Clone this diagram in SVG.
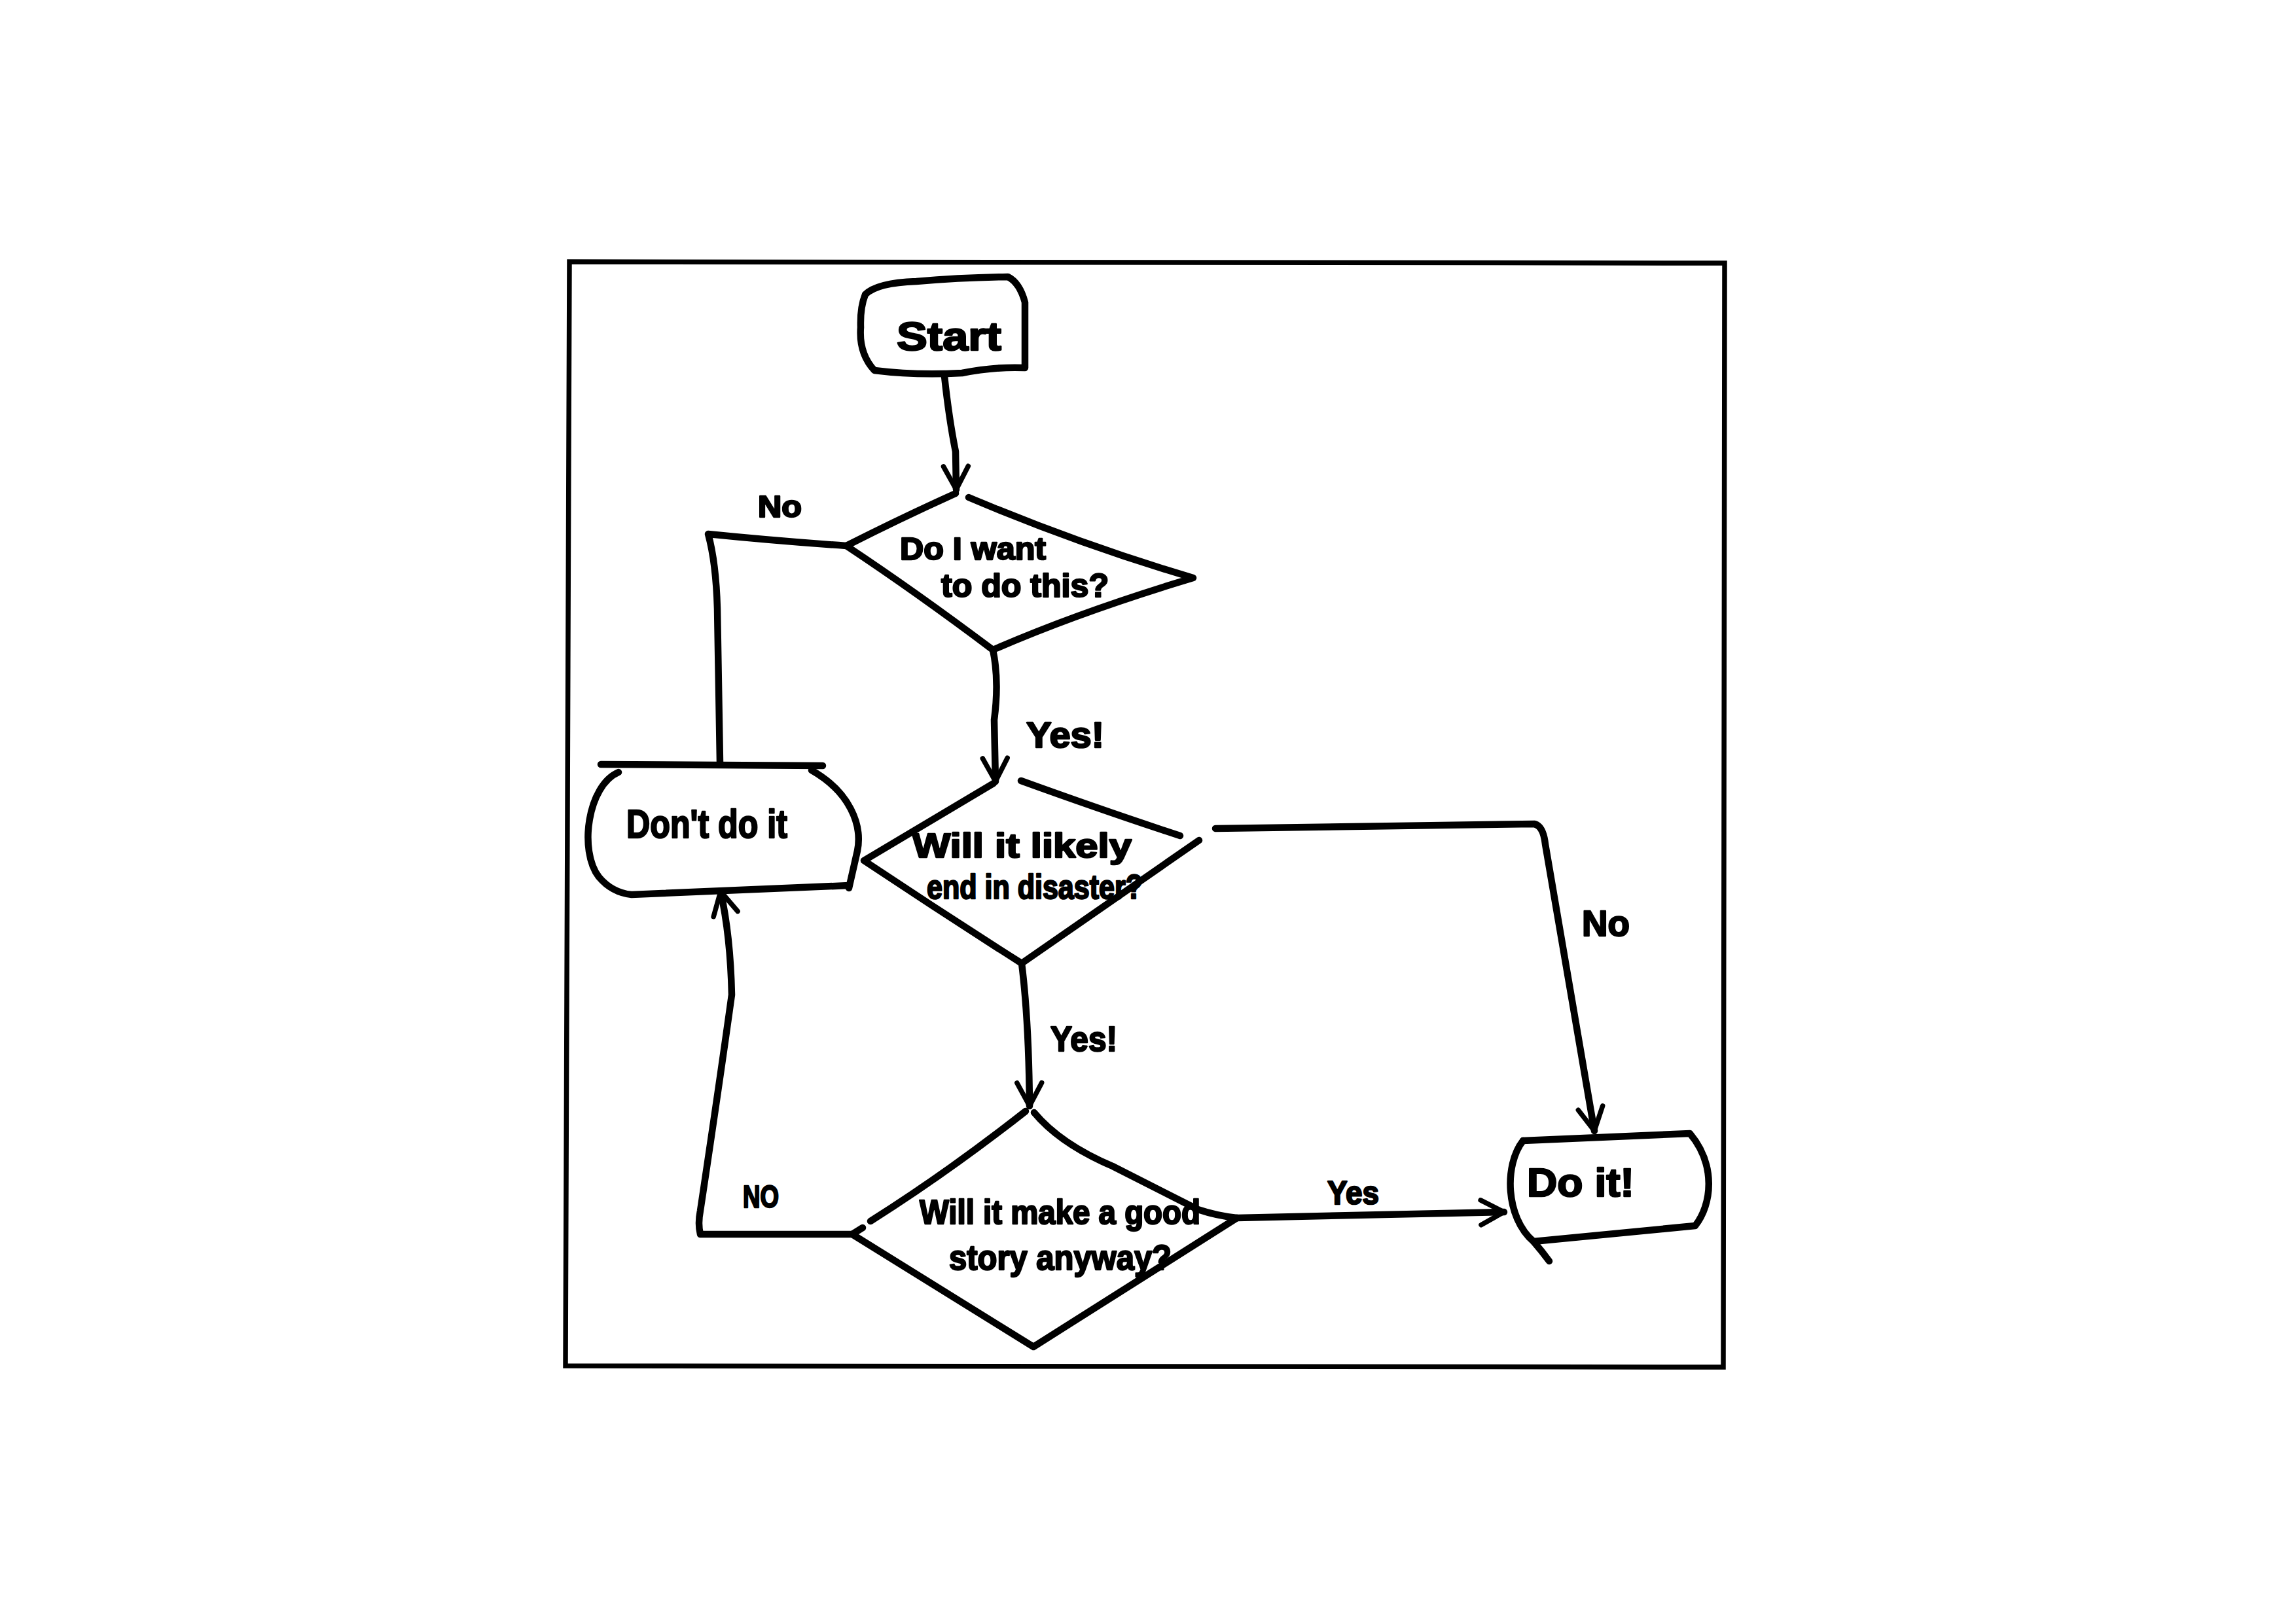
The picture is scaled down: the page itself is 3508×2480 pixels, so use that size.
<svg xmlns="http://www.w3.org/2000/svg" width="3508" height="2480" viewBox="0 0 3508 2480">
  <style>
    .ink { fill: none; stroke: #000; stroke-width: 10.5; stroke-linecap: round; stroke-linejoin: round; }
    .frame { fill: none; stroke: #000; stroke-width: 7.5; }
    .lbl { font-family: "Liberation Sans", Arial, sans-serif; font-weight: bold; fill: #000; stroke: #000; stroke-width: 2.5; stroke-linejoin: round; }
  </style>
  <defs>
    <marker id="arrow" viewBox="0 0 20 20" refX="17" refY="10" markerWidth="4.5" markerHeight="4.5" markerUnits="strokeWidth" orient="auto">
      <path d="M2,2 L17,10 L2,18" fill="none" stroke="#000" stroke-width="3.2" stroke-linecap="round" stroke-linejoin="round"/>
    </marker>
  </defs>

  <rect x="0" y="0" width="3508" height="2480" fill="#fff"/>

  <!-- outer frame -->
  <path class="frame" d="M870,400 L2635,402 L2633,2089 L864,2087 Z"/>

  <!-- connectors -->
  <g id="connectors">
    <path class="ink" marker-end="url(#arrow)" d="M1443,575 Q1450,640 1460,690 L1461,748"/>
    <path class="ink" d="M1293,834 Q1180,826 1082,816 Q1094,860 1096,930 L1100,1165"/>
    <path class="ink" marker-end="url(#arrow)" d="M1517,993 Q1527,1040 1519,1100 L1521,1194"/>
    <path class="ink" marker-end="url(#arrow)" d="M1857,1266 L2344,1259 Q2358,1262 2361,1290 L2436,1728"/>
    <path class="ink" marker-end="url(#arrow)" d="M1561,1472 Q1572,1560 1573,1690"/>
    <path class="ink" marker-end="url(#arrow)" d="M1890,1861 L2298,1852"/>
    <path class="ink" marker-end="url(#arrow)" d="M1302,1886 L1070,1886 Q1066,1870 1070,1850 Q1100,1650 1118,1520 Q1116,1430 1101,1362"/>
  </g>

  <!-- connector labels -->
  <g id="labels">
    <text class="lbl" x="1158" y="790" font-size="46" textLength="67" lengthAdjust="spacingAndGlyphs">No</text>
    <text class="lbl" x="1568" y="1142" font-size="56" textLength="119" lengthAdjust="spacingAndGlyphs">Yes!</text>
    <text class="lbl" x="2417" y="1430" font-size="56" textLength="73" lengthAdjust="spacingAndGlyphs">No</text>
    <text class="lbl" x="1605" y="1606" font-size="54" textLength="102" lengthAdjust="spacingAndGlyphs">Yes!</text>
    <text class="lbl" x="1135" y="1845" font-size="48" textLength="55" lengthAdjust="spacingAndGlyphs">NO</text>
    <text class="lbl" x="2028" y="1840" font-size="50" textLength="79" lengthAdjust="spacingAndGlyphs">Yes</text>
  </g>

  <!-- start terminal -->
  <g id="start">
    <path class="ink" d="M1322,450 Q1340,432 1400,430 Q1470,424 1540,423 Q1558,432 1566,462 L1566,562 Q1520,560 1470,570 Q1400,574 1336,566 Q1312,540 1315,500 Q1314,470 1322,450 Z"/>
    <text class="lbl" x="1370" y="535" font-size="62" textLength="160" lengthAdjust="spacingAndGlyphs">Start</text>
  </g>

  <!-- decision: want to do this -->
  <g id="decision-want">
    <path class="ink" d="M1460,754 Q1380,790 1293,834 Q1400,905 1517,993"/>
    <path class="ink" d="M1480,760 Q1650,832 1823,883 Q1650,935 1517,993"/>
    <text class="lbl" x="1375" y="855" font-size="48" textLength="223" lengthAdjust="spacingAndGlyphs">Do I want</text>
    <text class="lbl" x="1438" y="912" font-size="50" textLength="256" lengthAdjust="spacingAndGlyphs">to do this?</text>
  </g>

  <!-- decision: disaster -->
  <g id="decision-disaster">
    <path class="ink" d="M1518,1197 L1320,1315 Q1440,1395 1561,1472 L1832,1284"/>
    <path class="ink" d="M1560,1193 Q1690,1240 1803,1277"/>
    <text class="lbl" x="1394" y="1310" font-size="52" textLength="335" lengthAdjust="spacingAndGlyphs">Will it likely</text>
    <text class="lbl" x="1416" y="1373" font-size="52" textLength="330" lengthAdjust="spacingAndGlyphs">end in disaster?</text>
  </g>

  <!-- decision: good story -->
  <g id="decision-story">
    <path class="ink" d="M1567,1698 Q1450,1790 1330,1866"/>
    <path class="ink" d="M1318,1876 L1302,1886 L1579,2058 L1890,1861"/>
    <path class="ink" d="M1580,1700 Q1620,1748 1700,1782 L1830,1848 Q1860,1858 1890,1861"/>
    <text class="lbl" x="1405" y="1870" font-size="52" textLength="429" lengthAdjust="spacingAndGlyphs">Will it make a good</text>
    <text class="lbl" x="1450" y="1940" font-size="54" textLength="340" lengthAdjust="spacingAndGlyphs">story anyway?</text>
  </g>

  <!-- terminal: don't do it -->
  <g id="dont-do-it">
    <path class="ink" d="M918,1168 L1257,1170"/>
    <path class="ink" d="M945,1180 C898,1200 884,1300 915,1340 Q935,1364 965,1367 L1297,1353"/>
    <path class="ink" d="M1240,1177 C1298,1210 1318,1260 1310,1300 L1297,1357"/>
    <text class="lbl" x="957" y="1280" font-size="62" textLength="246" lengthAdjust="spacingAndGlyphs">Don't do it</text>
  </g>

  <!-- terminal: do it -->
  <g id="do-it">
    <path class="ink" d="M2327,1743 L2582,1732 C2622,1780 2616,1840 2590,1873 L2343,1897"/>
    <path class="ink" d="M2327,1743 C2298,1780 2300,1860 2343,1897 Q2356,1912 2367,1927"/>
    <text class="lbl" x="2333" y="1828" font-size="62" textLength="164" lengthAdjust="spacingAndGlyphs">Do it!</text>
  </g>
</svg>
